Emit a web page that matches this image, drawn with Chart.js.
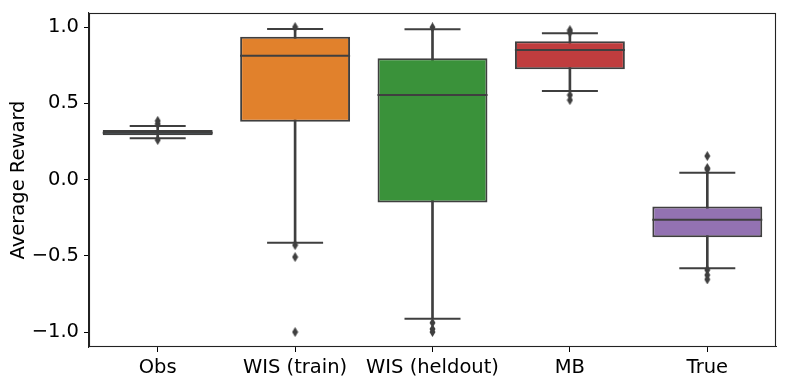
<!DOCTYPE html>
<html><head><meta charset="utf-8">
<script src="https://cdn.jsdelivr.net/npm/chart.js@4"></script>
<style>html,body{margin:0;padding:0;background:#fff}#wrap{width:789px;height:384px}</style>
</head><body><div id="wrap"><canvas id="c" width="789" height="384"></canvas></div>
<script>
const categories = ['Obs', 'WIS (train)', 'WIS (heldout)', 'MB', 'True'];
const q1 = [0.291, 0.379, -0.150, 0.723, -0.379];
const median = [0.307, 0.812, 0.554, 0.849, -0.264];
const q3 = [0.325, 0.936, 0.795, 0.906, -0.176];
const whiskerLow = [0.270, -0.414, -0.913, 0.580, -0.582];
const whiskerHigh = [0.351, 0.987, 0.985, 0.960, 0.045];
const outliers = [
  [0.385, 0.365, 0.259],
  [1.0, -0.430, -0.508, -1.0],
  [0.998, -0.939, -0.980, -1.0],
  [0.980, 0.965, 0.554, 0.521],
  [0.154, 0.075, 0.067, -0.593, -0.626, -0.655]
];
const yTicks = [-1.0, -0.5, 0.0, 0.5, 1.0];
const boxColors = ['#3274a1', '#e1812c', '#3a923a', '#c03d3e', '#9372b2'];
const lineColor = '#3f3f3f';

const diamond = document.createElement('canvas');
diamond.width = 7; diamond.height = 10;
(function(){
  const g = diamond.getContext('2d');
  g.fillStyle = lineColor;
  g.beginPath();
  g.moveTo(3.5, 0); g.lineTo(6.5, 5); g.lineTo(3.5, 10); g.lineTo(0.5, 5); g.closePath();
  g.fill();
})();

const capPoints = [];
categories.forEach((c, i) => {
  capPoints.push({x: c, y: whiskerLow[i]});
  capPoints.push({x: c, y: whiskerHigh[i]});
});
const medianPoints = categories.map((c, i) => ({x: c, y: median[i]}));
const outlierPoints = [];
categories.forEach((c, i) => outliers[i].forEach(v => outlierPoints.push({x: c, y: v})));

const fmt = v => v.toFixed(1).replace('-', '\u2212');
const font = {family: 'DejaVu Sans', size: 19.5};

const frame = {
  id: 'frame',
  afterDraw(chart) {
    const {ctx, chartArea: a} = chart;
    ctx.save();
    ctx.strokeStyle = '#222';
    ctx.lineWidth = 1.1;
    ctx.strokeRect(Math.round(a.left) + 0.5, Math.round(a.top) + 0.5, Math.round(a.right - a.left) - 1, Math.round(a.bottom - a.top) - 1);
    ctx.restore();
  }
};
const noPad = s => { s.paddingTop = 0; s.paddingBottom = 0; s.paddingLeft = 0; s.paddingRight = 0; };

new Chart(document.getElementById('c'), {
  type: 'bar',
  data: {
    labels: categories,
    datasets: [
      {
        type: 'bar', data: categories.map((c, i) => [whiskerLow[i], whiskerHigh[i]]),
        backgroundColor: lineColor, barThickness: 2, grouped: false, order: 5, borderWidth: 0
      },
      {
        type: 'bar', data: categories.map((c, i) => [q1[i], q3[i]]),
        backgroundColor: boxColors, borderColor: lineColor, borderWidth: 2, borderSkipped: false,
        grouped: false, barPercentage: 1, categoryPercentage: 0.8, order: 4
      },
      {
        type: 'line', data: medianPoints, showLine: false, pointStyle: 'line',
        pointRadius: 55, pointBorderWidth: 2, pointBorderColor: lineColor, order: 3
      },
      {
        type: 'line', data: capPoints, showLine: false, pointStyle: 'line',
        pointRadius: 28, pointBorderWidth: 2, pointBorderColor: lineColor, order: 2
      },
      {
        type: 'line', data: outlierPoints, showLine: false, pointStyle: diamond,
        pointRadius: 4, order: 1
      }
    ]
  },
  options: {
    responsive: false,
    devicePixelRatio: 1,
    animation: false,
    layout: {autoPadding: false, padding: {top: 13, right: 13, left: 0, bottom: 0}},
    plugins: {legend: {display: false}, tooltip: {enabled: false}},
    scales: {
      x: {
        type: 'category', offset: true,
        grid: {display: true, offset: false, drawOnChartArea: false, drawTicks: true, tickLength: 5, color: '#000'},
        border: {display: true, color: '#222', width: 1.1},
        ticks: {font: font, color: '#000', padding: 4, maxRotation: 0, autoSkip: false},
        afterFit: s => { s.height = 37; noPad(s); }
      },
      y: {
        min: -1.098, max: 1.092,
        afterBuildTicks: s => { s.ticks = yTicks.map(v => ({value: v})); },
        grid: {display: true, drawOnChartArea: false, drawTicks: true, tickLength: 5, color: '#000'},
        border: {display: true, color: '#222', width: 1.1},
        ticks: {font: font, color: '#000', padding: 5, callback: v => fmt(v)},
        title: {display: true, text: 'Average Reward', font: font, color: '#000', padding: {top: 7, bottom: 0}},
        afterFit: s => { s.width = 89; noPad(s); }
      }
    }
  },
  plugins: [frame]
});
</script></body></html>
